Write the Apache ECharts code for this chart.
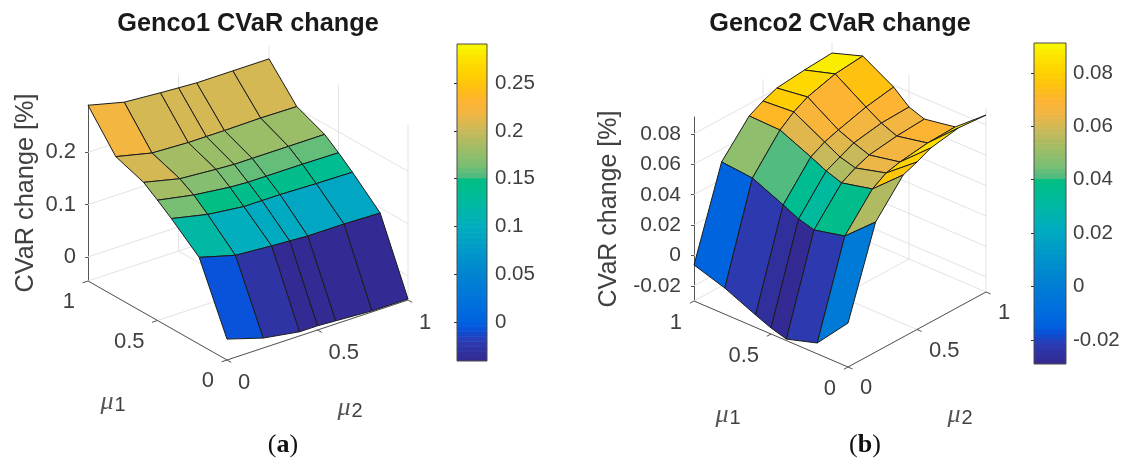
<!DOCTYPE html>
<html>
<head>
<meta charset="utf-8">
<style>html,body{margin:0;padding:0;background:#fff}#c{width:1123px;height:459px}</style>
<script src="https://cdn.jsdelivr.net/npm/echarts@6/dist/echarts.min.js"></script>
</head>
<body>
<div id="c"></div>
<script>
// ---- data ----
const mu1Values = [0, 0.2, 0.4, 0.5, 0.6, 0.8, 1];
const mu2Values = [0, 0.2, 0.4, 0.5, 0.6, 0.8, 1];
const muTicks = [0, 0.5, 1];

const genco1Mu1_00 = [-0.006, -0.027, -0.038, -0.038, -0.040, -0.044, -0.044];
const genco1Mu1_02 = [0.120, 0.101, 0.096, 0.094, 0.092, 0.092, 0.090];
const genco1Mu1_04 = [0.164, 0.149, 0.141, 0.141, 0.141, 0.139, 0.138];
const genco1Mu1_05 = [0.184, 0.171, 0.163, 0.161, 0.161, 0.161, 0.160];
const genco1Mu1_06 = [0.203, 0.187, 0.182, 0.180, 0.180, 0.180, 0.180];
const genco1Mu1_08 = [0.222, 0.206, 0.203, 0.203, 0.203, 0.204, 0.203];
const genco1Mu1_10 = [0.290, 0.273, 0.268, 0.266, 0.264, 0.264, 0.264];

const genco2Mu1_00 = [-0.0011, 0.0555, 0.0766, 0.0802, 0.0845, 0.0878, 0.0864];
const genco2Mu1_02 = [-0.0229, 0.0376, 0.0587, 0.0643, 0.0666, 0.0692, 0.0699];
const genco2Mu1_04 = [-0.0290, 0.0329, 0.0540, 0.0589, 0.0625, 0.0651, 0.0664];
const genco2Mu1_05 = [-0.0260, 0.0358, 0.0575, 0.0618, 0.0661, 0.0693, 0.0700];
const genco2Mu1_06 = [-0.0218, 0.0407, 0.0624, 0.0673, 0.0703, 0.0755, 0.0788];
const genco2Mu1_08 = [-0.0128, 0.0497, 0.0714, 0.0784, 0.0833, 0.0886, 0.0905];
const genco2Mu1_10 = [-0.0063, 0.0516, 0.0720, 0.0769, 0.0805, 0.0825, 0.0838];

const genco1ZTicks = [0, 0.1, 0.2];
const genco2ZTicks = [-0.02, 0, 0.02, 0.04, 0.06, 0.08];
const genco1BarTicks = [0, 0.05, 0.1, 0.15, 0.2, 0.25];
const genco2BarTicks = [-0.02, 0, 0.02, 0.04, 0.06, 0.08];

// ---- scales and styling ----
const genco1 = [genco1Mu1_00, genco1Mu1_02, genco1Mu1_04, genco1Mu1_05, genco1Mu1_06, genco1Mu1_08, genco1Mu1_10];
const genco2 = [genco2Mu1_00, genco2Mu1_02, genco2Mu1_04, genco2Mu1_05, genco2Mu1_06, genco2Mu1_08, genco2Mu1_10];

const colorStops = [
  [0.00,'#35288f'],[0.066,'#2b3db4'],[0.098,'#0a50d8'],[0.119,'#0060e0'],[0.18,'#0070dd'],
  [0.277,'#0085d0'],[0.36,'#009cc8'],[0.43,'#00aebd'],[0.50,'#00b9a0'],[0.57,'#00be85'],
  [0.585,'#50bb80'],[0.62,'#7cbf73'],[0.685,'#a8bc63'],[0.727,'#c8b95a'],[0.78,'#f0b644'],
  [0.82,'#fdb432'],[0.865,'#ffc010'],[0.907,'#ffd000'],[0.95,'#ffe000'],[1.00,'#f8f800']
];
const hex = s => [1,3,5].map(i => parseInt(s.substr(i,2),16));
function ramp(t){
  const lv = 64, f = (Math.min(lv-1, Math.max(0, Math.floor(t*lv))) + 0.5)/lv;
  for (let k=1;k<colorStops.length;k++){
    if (f <= colorStops[k][0]){
      const a=colorStops[k-1], b=colorStops[k], r=(f-a[0])/(b[0]-a[0]);
      const ca=hex(a[1]), cb=hex(b[1]);
      return 'rgb('+ca.map((c,n)=>Math.round(c+(cb[n]-c)*r)).join(',')+')';
    }
  }
  return colorStops[colorStops.length-1][1];
}

const TEXT = '#404040', GRID = '#e3e3e3', FONT = 'Liberation Sans';
const panel1 = {o:[227,360],u:[-139,-79],v:[181,-60],s:523,zMin:-0.046,zMax:0.29,cMin:-0.041,cMax:0.291,z:genco1,zt:genco1ZTicks,
  m1Off:[-13,21],m2Off:[11,23]};
const panel2 = {o:[848,367],u:[-154,-66],v:[138,-75],s:1520,zMin:-0.030,zMax:0.0912,cMin:-0.029,cMax:0.0912,z:genco2,zt:genco2ZTicks,
  m1Off:[-12,22],m2Off:[12,21]};
const proj = (p,m1,m2,z) => [
  p.o[0]+m1*p.u[0]+m2*p.v[0],
  p.o[1]+m1*p.u[1]+m2*p.v[1]-(z-p.zMin)*p.s
];

function surfaceSeries(p){
  const faces=[];
  for(let i=mu1Values.length-2;i>=0;i--) for(let j=mu2Values.length-2;j>=0;j--) faces.push([i,j]);
  return {type:'custom',coordinateSystem:'cartesian2d',xAxisIndex:0,yAxisIndex:0,silent:true,clip:false,z:5,
    data:faces,
    renderItem(params,api){
      const i=api.value(0), j=api.value(1);
      const pt=(a,b)=>api.coord(proj(p,mu1Values[a],mu2Values[b],p.z[a][b]));
      return {type:'polygon',shape:{points:[pt(i,j),pt(i+1,j),pt(i+1,j+1),pt(i,j+1)]},
        style:{fill:ramp((p.z[i][j]-p.cMin)/(p.cMax-p.cMin)),stroke:'#1c1c1c',lineWidth:1,lineJoin:'round'}};
    }};
}

function frameSeries(p){
  return {type:'custom',coordinateSystem:'cartesian2d',xAxisIndex:0,yAxisIndex:0,silent:true,clip:false,z:2,
    data:[[0,0]],
    renderItem(params,api){
      const C=(a,b,z)=>api.coord(proj(p,a,b,z));
      const ch=[];
      const line=(A,B,col)=>ch.push({type:'line',shape:{x1:A[0],y1:A[1],x2:B[0],y2:B[1]},style:{stroke:col,lineWidth:1}});
      // wall and floor grid
      p.zt.forEach(z=>{line(C(1,0,z),C(1,1,z),GRID);line(C(1,1,z),C(0,1,z),GRID);});
      muTicks.forEach(t=>{
        if(t>0){line(C(1,t,p.zMin),C(1,t,p.zMax),GRID);}
        if(t<1){line(C(t,1,p.zMin),C(t,1,p.zMax),GRID);}
        line(C(t,0,p.zMin),C(t,1,p.zMin),GRID);
        line(C(0,t,p.zMin),C(1,t,p.zMin),GRID);
      });
      // front floor axes
      line(C(0,0,p.zMin),C(1,0,p.zMin),'#555');
      line(C(0,0,p.zMin),C(0,1,p.zMin),'#555');
      const tl=0.03;
      muTicks.forEach(t=>{
        line(C(t,0,p.zMin),C(t,-tl,p.zMin),'#555');
        line(C(0,t,p.zMin),C(-tl,t,p.zMin),'#555');
        const a=C(t,0,p.zMin), b=C(0,t,p.zMin);
        ch.push({type:'text',x:a[0]+p.m1Off[0],y:a[1]+p.m1Off[1],style:{text:String(t),fill:TEXT,font:'22px "'+FONT+'"',textAlign:'right',textVerticalAlign:'middle'}});
        ch.push({type:'text',x:b[0]+p.m2Off[0],y:b[1]+p.m2Off[1],style:{text:String(t),fill:TEXT,font:'22px "'+FONT+'"',textAlign:'left',textVerticalAlign:'middle'}});
      });
      return {type:'group',children:ch};
    }};
}

function barSeries(p,idx){
  const bands=[]; for(let k=0;k<64;k++) bands.push([k]);
  return {type:'custom',coordinateSystem:'cartesian2d',xAxisIndex:idx,yAxisIndex:idx,silent:true,z:3,clip:true,
    data:bands,
    renderItem(params,api){
      const k=api.value(0), d=(p.cMax-p.cMin)/64;
      const a=api.coord([0,p.cMin+k*d]), b=api.coord([1,p.cMin+(k+1)*d]);
      return {type:'rect',shape:{x:a[0],y:b[1],width:b[0]-a[0],height:a[1]-b[1]+0.6},style:{fill:ramp((k+0.5)/64)}};
    }};
}

function hiddenX(i){return {gridIndex:i,type:'value',min:0,max:1,show:false};}
function zAxis(i,p,gap,margin,size,nameSize){
  return {gridIndex:i,type:'value',position:'left',min:p.zMin,max:p.zMax,
    name:'CVaR change [%]',nameLocation:'middle',nameRotate:90,nameGap:gap,
    nameTextStyle:{color:TEXT,fontSize:nameSize,fontFamily:FONT},
    axisLine:{show:true,lineStyle:{color:'#555',width:1}},
    axisTick:{show:true,length:3,lineStyle:{color:'#555'},customValues:p.zt},
    axisLabel:{color:TEXT,fontSize:size,fontFamily:FONT,margin:margin,customValues:p.zt,formatter:v=>String(v)},
    splitLine:{show:false}};
}
function barAxis(i,p,ticks,margin){
  return {gridIndex:i,type:'value',position:'right',min:p.cMin,max:p.cMax,
    axisLine:{show:false},
    axisTick:{show:true,inside:true,length:3,lineStyle:{color:'#333'},customValues:ticks},
    axisLabel:{color:TEXT,fontSize:20.5,fontFamily:FONT,margin:margin,customValues:ticks,formatter:v=>String(v)},
    splitLine:{show:false}};
}
const muLabel=(n,x,y)=>({left:x,top:y,textAlign:'center',padding:0,
  text:'{m|μ}{s|'+n+'}',
  textStyle:{fontWeight:'normal',rich:{
    m:{fontFamily:'Liberation Serif',fontStyle:'italic',fontWeight:'normal',fontSize:26,color:'#555',verticalAlign:'top',lineHeight:26},
    s:{fontFamily:FONT,fontWeight:'normal',fontSize:20,color:TEXT,verticalAlign:'bottom',padding:[0,0,0,1],lineHeight:26}}}});
const capLabel=(ch,x,y)=>({left:x,top:y,textAlign:'center',padding:0,
  text:'{p|(}{b|'+ch+'}{p|)}',
  textStyle:{fontWeight:'normal',rich:{p:{fontFamily:'Liberation Serif',fontWeight:'normal',fontSize:26,color:'#111'},b:{fontFamily:'Liberation Serif',fontWeight:'bold',fontSize:26,color:'#111'}}}});
const mainTitle=(t,x)=>({text:t,left:x,top:12,padding:0,textAlign:'center',
  textStyle:{fontFamily:FONT,fontWeight:'bold',fontSize:25.3,color:'#1a1a1a'}});

const chart = echarts.init(document.getElementById('c'),null,{renderer:'canvas'});
chart.setOption({
  animation:false,
  backgroundColor:'#fff',
  title:[mainTitle('Genco1 CVaR change',248),mainTitle('Genco2 CVaR change',840),
    muLabel(1,113,389),muLabel(2,350,395),muLabel(1,728,402),muLabel(2,960,402),
    capLabel('a',283,432),capLabel('b',865,432)],
  grid:[
    {left:0,top:0,width:1123,height:459},
    {left:88,top:105,width:181,height:176},
    {left:694,top:117,width:138,height:184},
    {left:457,top:44,width:30,height:317,show:true,borderColor:'#4a4a4a',borderWidth:1,z:4,backgroundColor:'transparent'},
    {left:1034,top:43,width:32,height:321,show:true,borderColor:'#4a4a4a',borderWidth:1,z:4,backgroundColor:'transparent'}
  ],
  xAxis:[{gridIndex:0,type:'value',min:0,max:1123,show:false},hiddenX(1),hiddenX(2),hiddenX(3),hiddenX(4)],
  yAxis:[{gridIndex:0,type:'value',min:0,max:459,inverse:true,show:false},
    zAxis(1,panel1,49,12,22,25.3),zAxis(2,panel2,72,13,21,25),
    barAxis(3,panel1,genco1BarTicks,8),barAxis(4,panel2,genco2BarTicks,7)],
  series:[frameSeries(panel1),frameSeries(panel2),surfaceSeries(panel1),surfaceSeries(panel2),barSeries(panel1,3),barSeries(panel2,4)]
});
</script>
</body>
</html>
